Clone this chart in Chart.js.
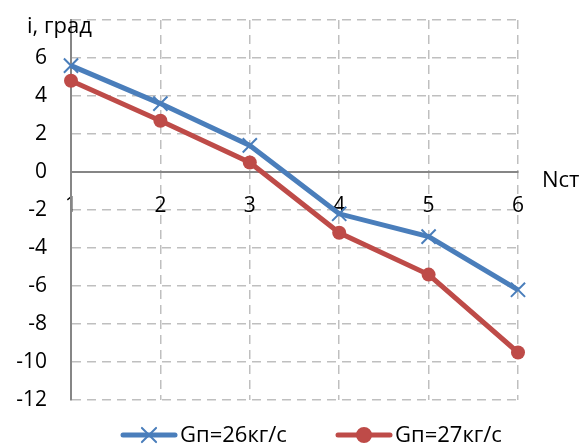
<!DOCTYPE html>
<html>
<head>
<meta charset="utf-8">
<script src="https://cdn.jsdelivr.net/npm/chart.js@4"></script>
<style>
  html, body { margin: 0; padding: 0; background: #fff; }
  #wrap { width: 587px; height: 447px; }
</style>
</head>
<body>
<div id="wrap"><canvas id="grafico" width="587" height="447"></canvas></div>
<script>
const etapas = [1, 2, 3, 4, 5, 6];
const serie26 = [5.6, 3.6, 1.4, -2.2, -3.4, -6.2];
const serie27 = [4.8, 2.7, 0.5, -3.2, -5.4, -9.5];
const nombres = ['Gп=26кг/с', 'Gп=27кг/с'];
const tituloY = 'i, град';
const tituloX = 'Nст';

const azul = '#4a7ebb';
const rojo = '#be4b48';
const fuente = "'Open Sans', 'Liberation Sans', sans-serif";

// titulos de ejes y leyenda dibujados a mano
const extras = {
    id: 'extras',
    afterDraw(chart) {
        const ctx = chart.ctx;
        const area = chart.chartArea;
        const y0 = chart.scales.y.getPixelForValue(0);
        ctx.save();
        ctx.fillStyle = '#000';
        ctx.font = '22px ' + fuente;
        ctx.textBaseline = 'middle';
        ctx.textAlign = 'left';
        ctx.fillText(tituloY, 27, 27);
        ctx.fillText(tituloX, area.right + 24, y0 + 9);

        // leyenda
        const items = [
            { x: 123, color: azul, marca: 'crossRot', radio: 10 },
            { x: 338, color: rojo, marca: 'circle', radio: 7 }
        ];
        const yl = 435;
        items.forEach((it, i) => {
            ctx.strokeStyle = it.color;
            ctx.lineWidth = 5;
            ctx.lineCap = 'round';
            ctx.beginPath();
            ctx.moveTo(it.x, yl);
            ctx.lineTo(it.x + 52, yl);
            ctx.stroke();
            ctx.lineWidth = 2;
            Chart.helpers.drawPoint(ctx, {
                pointStyle: it.marca, radius: it.radio, borderWidth: 2
            }, it.x + 26, yl);
            ctx.fillStyle = it.color;
            if (it.marca === 'circle') {
                ctx.beginPath();
                ctx.arc(it.x + 26, yl, it.radio, 0, Math.PI * 2);
                ctx.fill();
            }
            ctx.fillStyle = '#000';
            ctx.fillText(nombres[i], it.x + 57, yl + 1);
        });
        ctx.restore();
    }
};

const ctx = document.getElementById('grafico').getContext('2d');
const grafico = new Chart(ctx, {
    type: 'line',
    data: {
        datasets: [
            {
                label: nombres[0],
                data: etapas.map((n, i) => ({ x: n, y: serie26[i] })),
                borderColor: azul,
                backgroundColor: azul,
                borderWidth: 5,
                pointStyle: 'crossRot',
                pointRadius: 10,
                pointBorderWidth: 2,
                pointBorderColor: azul,
                tension: 0,
                clip: false
            },
            {
                label: nombres[1],
                data: etapas.map((n, i) => ({ x: n, y: serie27[i] })),
                borderColor: rojo,
                backgroundColor: rojo,
                borderWidth: 5,
                pointStyle: 'circle',
                pointRadius: 7,
                pointBorderWidth: 0,
                tension: 0,
                clip: false
            }
        ]
    },
    options: {
        responsive: false,
        animation: false,
        layout: { padding: { left: 0, top: 20, right: 69, bottom: 47 } },
        plugins: { legend: { display: false }, tooltip: { enabled: false } },
        scales: {
            x: {
                type: 'linear',
                position: { y: 0 },
                min: 1,
                max: 6,
                afterFit(scale) { scale.height = 0; },
                ticks: {
                    stepSize: 1,
                    color: '#000',
                    font: { family: fuente, size: 21 },
                    padding: 21
                },
                grid: {
                    color: '#bfbfbf',
                    lineWidth: 1.5,
                    drawTicks: false
                },
                border: { display: true, color: '#868686', width: 2, dash: [9, 6] }
            },
            y: {
                min: -12,
                max: 8,
                afterFit(scale) {
                    scale.width = 71;
                    scale.paddingTop = 0;
                    scale.paddingBottom = 0;
                },
                ticks: {
                    stepSize: 2,
                    color: '#000',
                    font: { family: fuente, size: 21 },
                    padding: 24,
                    callback: (v) => (v === 8 ? '' : v)
                },
                grid: {
                    color: '#bfbfbf',
                    lineWidth: 1.5,
                    drawTicks: false
                },
                border: { display: true, color: '#868686', width: 2, dash: [9, 6] }
            }
        }
    },
    plugins: [extras]
});
</script>
</body>
</html>
